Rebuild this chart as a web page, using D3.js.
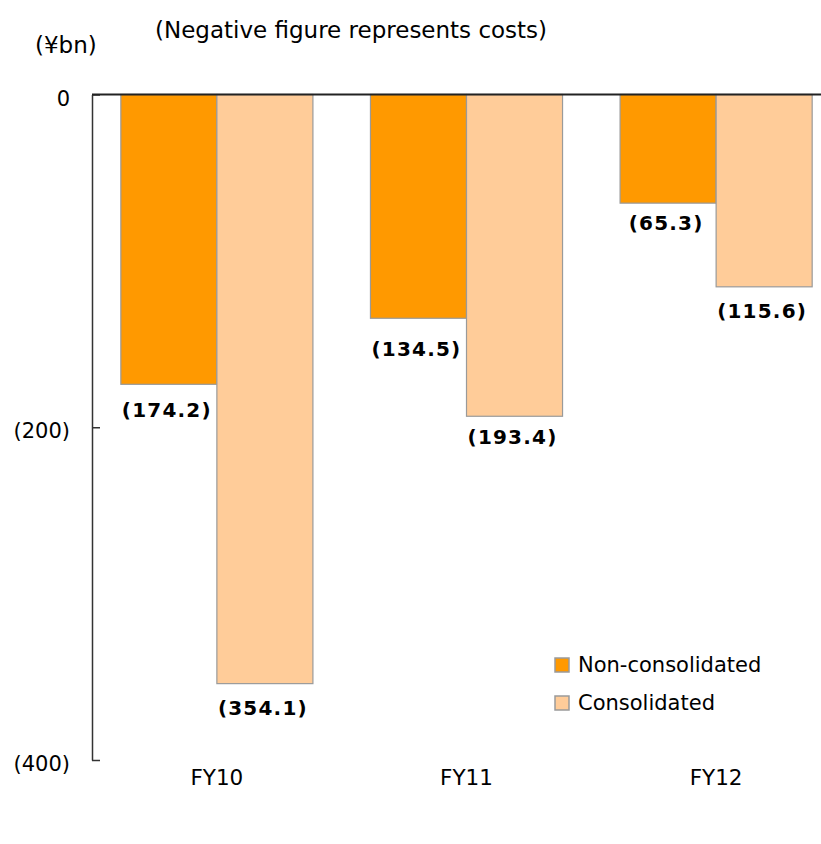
<!DOCTYPE html>
<html>
<head>
<meta charset="utf-8">
<script src="https://cdn.jsdelivr.net/npm/d3@7"></script>
<style>
  html, body { margin: 0; padding: 0; background: #fff; }
  svg { display: block; }
  text { font-family: "DejaVu Sans", Verdana, sans-serif; fill: #000; }
</style>
</head>
<body>
<svg id="chart" width="821" height="844"></svg>
<script>
// Restructuring costs by fiscal year (¥bn, shown as negative values)
const categories = ["FY10", "FY11", "FY12"];
const seriesNames = ["Non-consolidated", "Consolidated"];
const nonConsolidated = [-174.2, -134.5, -65.3];
const consolidated = [-354.1, -193.4, -115.6];
const yTicks = [0, -200, -400];
const seriesColors = ["#FF9900", "#FFCC99"];

const svg = d3.select("#chart");

const x0 = d3.scaleBand()
  .domain(categories)
  .range([92, 841])
  .paddingInner(0.2305)
  .paddingOuter(0.1155);

const x1 = d3.scaleBand()
  .domain(seriesNames)
  .range([0, x0.bandwidth()]);

const y = d3.scaleLinear()
  .domain([-400, 0])
  .range([760, 94.5]);

const fmt = v => v === 0 ? "0" : "(" + d3.format(".0f")(Math.abs(v)) + ")";
const fmtVal = v => "(" + Math.abs(v).toFixed(1) + ")";

// Gap between a bar's end and the centre of its value label, per series / category
const labelGap = [[26, 31, 20], [24, 21, 24]];

// Bars
const rows = categories.map((c, i) => ({
  cat: c,
  i,
  values: [nonConsolidated[i], consolidated[i]]
}));

const groups = svg.append("g").selectAll("g")
  .data(rows)
  .join("g")
  .attr("transform", d => `translate(${x0(d.cat)},0)`);

groups.selectAll("rect")
  .data(d => d.values.map((v, k) => ({ key: seriesNames[k], v, k, i: d.i })))
  .join("rect")
  .attr("x", d => x1(d.key))
  .attr("y", y(0))
  .attr("width", x1.bandwidth())
  .attr("height", d => y(d.v) - y(0))
  .attr("fill", d => seriesColors[d.k])
  .attr("stroke", "#9a9a9a")
  .attr("stroke-width", 1.2);

// Value labels below each bar
groups.selectAll("text.val")
  .data(d => d.values.map((v, k) => ({ key: seriesNames[k], v, k, i: d.i })))
  .join("text")
  .attr("class", "val")
  .attr("x", d => x1(d.key) + x1.bandwidth() / 2 - 2)
  .attr("y", d => y(d.v) + labelGap[d.k][d.i])
  .attr("text-anchor", "middle")
  .attr("dominant-baseline", "central")
  .style("font-weight", "bold")
  .style("font-size", "20px")
  .style("letter-spacing", "1.2px")
  .text(d => fmtVal(d.v));

// Y axis
const yAxis = d3.axisLeft(y)
  .tickValues(yTicks)
  .tickFormat(fmt)
  .tickSizeInner(-8)
  .tickSizeOuter(0)
  .tickPadding(22);

const ag = svg.append("g")
  .attr("transform", "translate(92,0)")
  .call(yAxis);
ag.select(".domain").attr("stroke", "#333").attr("stroke-width", 1.5);
ag.selectAll(".tick line").attr("stroke", "#333").attr("stroke-width", 1.5);
ag.selectAll(".tick text")
  .attr("dy", "0.5em")
  .style("font-size", "21px")
  .style("font-family", "'DejaVu Sans', Verdana, sans-serif")
  .attr("fill", "#000");

// Zero baseline
svg.append("line")
  .attr("x1", 92).attr("x2", 821)
  .attr("y1", y(0)).attr("y2", y(0))
  .attr("stroke", "#222")
  .attr("stroke-width", 2);

// Category labels
svg.append("g").selectAll("text")
  .data(categories)
  .join("text")
  .attr("x", d => x0(d) + x0.bandwidth() / 2)
  .attr("y", 777)
  .attr("text-anchor", "middle")
  .attr("dominant-baseline", "central")
  .style("font-size", "21.5px")
  .text(d => d);

// Unit and note
svg.append("text")
  .attr("x", 35).attr("y", 45)
  .attr("dominant-baseline", "central")
  .style("font-size", "23px")
  .text("(¥bn)");

svg.append("text")
  .attr("x", 155).attr("y", 30)
  .attr("dominant-baseline", "central")
  .style("font-size", "23px")
  .text("(Negative figure represents costs)");

// Legend
const legend = svg.append("g")
  .attr("transform", "translate(555,665)")
  .selectAll("g")
  .data(seriesNames)
  .join("g")
  .attr("transform", (d, i) => `translate(0,${i * 38})`);

legend.append("rect")
  .attr("x", 0).attr("y", -7)
  .attr("width", 14).attr("height", 14)
  .attr("fill", (d, i) => seriesColors[i])
  .attr("stroke", "#9a9a9a")
  .attr("stroke-width", 1.5);

legend.append("text")
  .attr("x", 23).attr("y", 0)
  .attr("dominant-baseline", "central")
  .style("font-size", "21px")
  .text(d => d);
</script>
</body>
</html>
